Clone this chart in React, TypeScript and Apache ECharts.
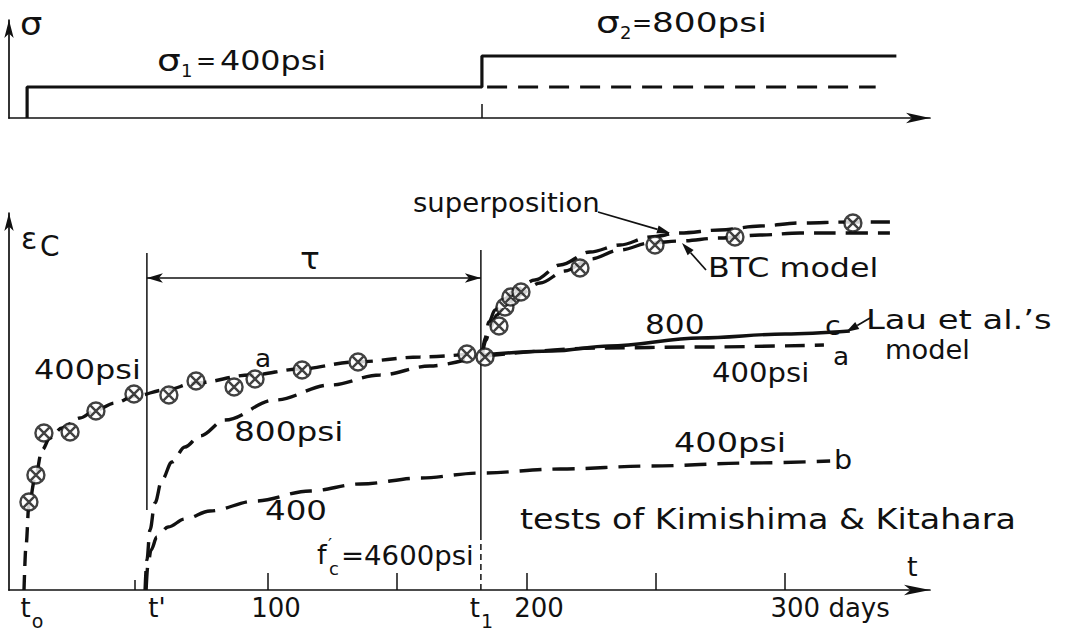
import React, { useEffect, useRef } from 'react';
import * as echarts from 'echarts';

// ---------- top panel: stress history (days, psi) ----------
const stressStepDays = [7, 7, 182.8, 182.8, 343];
const stressStepPsi = [0, 400, 400, 800, 800];
const stressHoldDays = [184.8, 335];
const stressHoldPsi = [400, 400];

// ---------- bottom panel: creep strain (days, relative strain) ----------
// curve a : 400 psi applied at t0 (fitted, dashed)
const curveADays = [5.8, 6.6, 7.7, 10.1, 12.8, 15.8, 20.5, 27.4, 33.6, 41, 48.7, 60.3, 72.3, 93.2, 112.5, 133.7, 158.9, 178.2];
const curveAVals = [0, 11.25, 21.25, 28, 35, 38, 40.5, 43, 45, 46.75, 48.5, 50, 51.75, 53.75, 55.25, 57, 58.25, 59];
// curve a continued after t1 (400 psi kept)
const curveAPostDays = [184, 228, 267, 315];
const curveAPostVals = [58.5, 60.5, 60.75, 61.25];
// curve c : Lau et al.'s model, 800 psi (solid)
const curveCDays = [183, 210, 232, 267, 300, 325];
const curveCVals = [58.75, 59.75, 61, 63, 64, 64.75];
// superposition
const superDays = [182.8, 184, 185.5, 187.9, 191, 195.6, 203.3, 213, 224.6, 236.2, 247.8, 259.4, 274.8, 290.3, 305.8, 325.1, 340.5];
const superVals = [58.25, 63, 67, 70, 72.5, 75, 77.5, 81.25, 84.5, 86.25, 88.25, 89.25, 90, 91, 91.75, 92, 92];
// BTC model
const btcDays = [182.8, 184.4, 185.9, 188.6, 191.7, 196.8, 205.3, 214.9, 224.6, 236.2, 247.8, 259.4, 274.8, 290.3, 305.8, 325.1, 340.5];
const btcVals = [58.25, 62.5, 65.5, 68.75, 71.25, 73.75, 76.75, 79.75, 82.75, 85, 86.75, 87.25, 88, 88.75, 89.25, 89.25, 89.25];
// 800 psi applied at t'
const c800Days = [52.6, 53.3, 54.5, 56.4, 59.1, 63, 68, 73.8, 83.5, 102.8, 124.1, 143.4, 162.7, 176.3];
const c800Vals = [0, 7.5, 15, 21.75, 27.5, 32, 35.75, 38.5, 42.5, 47.5, 51.25, 53.75, 56, 57.5];
// curve b : 400 psi applied at t'
const bDays = [53, 53.7, 54.9, 57.2, 61.5, 68, 77.7, 95.1, 116.4, 135.7, 158.9, 182.1, 213, 247.8, 286.4, 317.4];
const bVals = [0, 6.25, 10, 13.25, 15.75, 17.75, 19.75, 22.25, 24.75, 26.5, 28, 29.25, 30.25, 31, 31.75, 32.25];
// test points (Kimishima & Kitahara)
const testPreDays = [7.7, 10.4, 13.5, 23.6, 33.6, 48.3, 61.8, 72.3, 87, 95.1, 113.3, 134.9, 177];
const testPreVals = [22, 28.75, 39.25, 39.5, 44.75, 49, 48.75, 52.25, 50.75, 52.75, 55, 57, 59];
const testPostDays = [184, 189.4, 191.7, 194, 197.9, 220.7, 249.7, 280.6, 326.2];
const testPostVals = [58.25, 66, 70.75, 73.25, 74.5, 80.5, 86.25, 88.25, 91.75];

// reference lines
const tPrimeDay = 53.3;
const t1Day = 182.4;
const tPrimeLineVals = [20, 84.25];
const t1SolidVals = [12.5, 85];
const t1DashVals = [0, 12.5];
const tauLevel = 78;

// axis ticks / labels
const bottomTickDays = [100, 150, 200, 250, 300];
const smallTickDays = [48.7];
const topTickDays = [182.8];
const labelDays = [8.9, 57.2, 103.2, 182.6, 204.9, 317.4];
const labelTexts = ['{a|t}{s|o}', "{a|t'}", '{a|100}', '{a|t}{s|1}', '{a|200}', '{a|300 days}'];

const INK = '#111111';
const FONT = 'DejaVu Sans';

const zip = (xs: number[], ys: number[]) => xs.map((x, i) => [x, ys[i]]);

function txt(text: string, x: number, y: number, size = 26, sx = 1.2, extra: any = {}) {
  return {
    type: 'text',
    x,
    y,
    scaleX: sx,
    silent: true,
    style: {
      text,
      x: 0,
      y: 0,
      fontSize: size,
      fontFamily: FONT,
      fill: INK,
      align: 'left',
      verticalAlign: 'middle',
      ...extra,
    },
  };
}

function arrow(x1: number, y1: number, x2: number, y2: number, len = 13, w = 4) {
  const a = Math.atan2(y2 - y1, x2 - x1);
  const bx = x2 - len * Math.cos(a);
  const by = y2 - len * Math.sin(a);
  const p1 = [bx + w * Math.sin(a), by - w * Math.cos(a)];
  const p2 = [bx - w * Math.sin(a), by + w * Math.cos(a)];
  return [
    { type: 'line', silent: true, shape: { x1, y1, x2: bx, y2: by }, style: { stroke: INK, lineWidth: 1.7 } },
    { type: 'polygon', silent: true, shape: { points: [[x2, y2], p1, p2] }, style: { fill: INK } },
  ];
}

const MARKER = 'path://M8,0A8,8,0,1,1,-8,0A8,8,0,1,1,8,0ZM-4.8,-4.8L4.8,4.8M4.8,-4.8L-4.8,4.8';

function curve(days: number[], vals: number[], dash: any, width = 3.4, z = 3) {
  return {
    type: 'line',
    xAxisIndex: 1,
    yAxisIndex: 1,
    data: zip(days, vals),
    symbol: 'none',
    smooth: 0.35,
    smoothMonotone: 'x',
    silent: true,
    z,
    lineStyle: { color: INK, width, type: dash },
  };
}

function straight(days: number[], vals: number[], dash: any, width = 1.5, extra: any = {}) {
  return {
    type: 'line',
    xAxisIndex: 1,
    yAxisIndex: 1,
    data: zip(days, vals),
    symbol: 'none',
    silent: true,
    z: 2,
    lineStyle: { color: INK, width, type: dash },
    ...extra,
  };
}

export default function App() {
  const ref = useRef<HTMLDivElement>(null);
  useEffect(() => {
    if (!ref.current) return;
    const chart = echarts.init(ref.current, null, { renderer: 'svg' });
    const axisLine = (size: number[]) => ({
      show: true,
      symbol: ['none', 'arrow'],
      symbolSize: size,
      lineStyle: { color: INK, width: 1.7 },
    });
    const markerItem = { color: '#fff', borderColor: INK, borderWidth: 2.4 };
    const option: any = {
      animation: false,
      backgroundColor: '#fff',
      grid: [
        { left: 9, width: 921, top: 20, height: 98 },
        { left: 9, width: 921, top: 213, height: 377 },
      ],
      xAxis: [
        {
          gridIndex: 0, type: 'value', min: 0, max: 356, position: 'bottom',
          axisLine: axisLine([8, 24]),
          axisTick: { show: true, customValues: topTickDays, inside: true, length: 14, lineStyle: { color: INK, width: 1.5 } },
          axisLabel: { show: false }, splitLine: { show: false },
        },
        {
          gridIndex: 1, type: 'value', min: 0, max: 356, position: 'bottom',
          axisLine: axisLine([8, 26]),
          axisTick: { show: true, customValues: bottomTickDays, inside: true, length: 17, lineStyle: { color: INK, width: 1.5 } },
          axisLabel: {
            show: true,
            customValues: labelDays,
            margin: 5,
            formatter: (v: number) => {
              const i = labelDays.indexOf(v);
              return i >= 0 ? labelTexts[i] : '';
            },
            rich: {
              a: { fontSize: 26, fontFamily: FONT, color: INK, lineHeight: 26, verticalAlign: 'top' },
              s: { fontSize: 19, fontFamily: FONT, color: INK, lineHeight: 19, verticalAlign: 'top', padding: [16, 0, 0, 1] },
            },
          },
          splitLine: { show: false },
        },
        {
          gridIndex: 1, type: 'value', min: 0, max: 356, position: 'bottom', offset: 0,
          axisLine: { show: false, onZero: false },
          axisTick: { show: true, customValues: smallTickDays, inside: true, length: 10, lineStyle: { color: INK, width: 1.5 } },
          axisLabel: { show: false }, splitLine: { show: false },
        },
      ],
      yAxis: [
        {
          gridIndex: 0, type: 'value', min: 0, max: 1265,
          axisLine: axisLine([7, 18]),
          axisTick: { show: false }, axisLabel: { show: false }, splitLine: { show: false },
        },
        {
          gridIndex: 1, type: 'value', min: 0, max: 94.25,
          axisLine: axisLine([7, 18]),
          axisTick: { show: false }, axisLabel: { show: false }, splitLine: { show: false },
        },
      ],
      series: [
        {
          type: 'line', xAxisIndex: 0, yAxisIndex: 0, data: zip(stressStepDays, stressStepPsi),
          symbol: 'none', silent: true, lineStyle: { color: INK, width: 3.2 },
        },
        {
          type: 'line', xAxisIndex: 0, yAxisIndex: 0, data: zip(stressHoldDays, stressHoldPsi),
          symbol: 'none', silent: true, lineStyle: { color: INK, width: 3.2, type: [20, 11] },
        },
        curve(curveADays, curveAVals, [15, 9]),
        curve(curveAPostDays, curveAPostVals, [20, 10]),
        curve(curveCDays, curveCVals, 'solid', 3.4),
        curve(superDays, superVals, [22, 10]),
        curve(btcDays, btcVals, [22, 10]),
        curve(c800Days, c800Vals, [19, 10]),
        curve(bDays, bVals, [22, 11]),
        straight([tPrimeDay, tPrimeDay], tPrimeLineVals, 'solid', 1.5, {
          markLine: {
            silent: true,
            symbol: ['arrow', 'arrow'],
            symbolSize: [7, 16],
            label: { show: false },
            lineStyle: { color: INK, width: 1.5, type: 'solid' },
            data: [[{ coord: [tPrimeDay, tauLevel] }, { coord: [t1Day, tauLevel] }]],
          },
        }),
        straight([t1Day, t1Day], t1SolidVals, 'solid', 1.5),
        straight([t1Day, t1Day], t1DashVals, [6, 4], 1.5),
        {
          type: 'scatter', xAxisIndex: 1, yAxisIndex: 1, data: zip(testPreDays, testPreVals),
          symbol: MARKER, symbolSize: 17, symbolKeepAspect: true, silent: true, z: 5,
          itemStyle: markerItem,
        },
        {
          type: 'scatter', xAxisIndex: 1, yAxisIndex: 1, data: zip(testPostDays, testPostVals),
          symbol: MARKER, symbolSize: 17, symbolKeepAspect: true, silent: true, z: 5,
          itemStyle: markerItem,
        },
      ],
      graphic: [
        // top panel
        txt('σ', 20, 24, 32, 1.1),
        txt('σ', 157, 60, 30, 1.25),
        txt('1', 181, 70, 18, 1.0),
        txt('=', 196, 61, 24, 1.0),
        txt('400psi', 220, 61, 26, 1.22),
        txt('σ', 596, 22, 30, 1.25),
        txt('2', 620, 32, 18, 1.0),
        txt('=', 632, 23, 24, 1.0),
        txt('800psi', 652, 23, 26, 1.32),
        // bottom panel
        txt('ε', 21, 238, 30, 1.0),
        txt('C', 40, 246, 28, 1.0),
        txt('τ', 300, 259, 30, 1.1),
        txt('superposition', 413, 203, 26, 1.06),
        txt('BTC model', 708, 268, 26, 1.22),
        txt('Lau et al.’s', 866, 320, 26, 1.3),
        txt('model', 885, 350, 26, 1.05),
        txt('800', 645, 325, 26, 1.2),
        txt('c', 825, 326, 26, 1.1),
        txt('400psi', 712, 373, 26, 1.12),
        txt('a', 833, 357, 24, 1.1),
        txt('400psi', 34, 370, 26, 1.23),
        txt('a', 255, 359, 24, 1.1),
        txt('800psi', 234, 432, 26, 1.26),
        txt('400psi', 674, 443, 26, 1.29),
        txt('b', 834, 460, 26, 1.1),
        txt('400', 265, 511, 26, 1.25),
        txt('tests of Kimishima & Kitahara', 520, 519, 29, 1.15),
        txt('f', 317, 555, 26, 1.05),
        txt('′', 328, 544, 18, 1.0),
        txt('c', 329, 568, 18, 1.0),
        txt('=4600psi', 341, 556, 26, 1.06),
        txt('t', 907, 566, 27, 1.0),
        ...arrow(598, 212, 670, 233),
        ...arrow(706, 270, 682, 243),
        ...arrow(870, 318, 846, 332),
      ],
    };
    chart.setOption(option);
    return () => chart.dispose();
  }, []);
  return (
    <div
      ref={ref}
      style={{ position: 'fixed', left: 0, top: 0, width: 1074, height: 632, background: '#fff' }}
    />
  );
}
